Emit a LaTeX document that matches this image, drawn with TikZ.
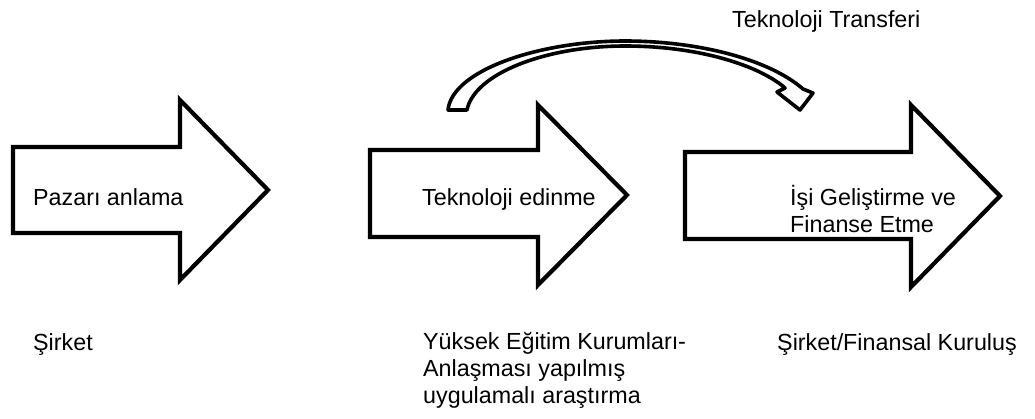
\documentclass[tikz,border=0pt]{standalone}
\usepackage{fontspec}
\setmainfont{Liberation Sans}
\begin{document}
\begin{tikzpicture}[x=1pt,y=-1pt,
  blockarrow/.style={draw=black,line width=4.2pt,line join=miter,fill=white},
  bentarrow/.style={draw=black,line width=3.6pt,line join=round,fill=white},
  lbl/.style={inner sep=0pt,anchor=base west,align=left,
    font=\fontsize{23.3}{27}\selectfont}]
\useasboundingbox (0,0) rectangle (1035,418);

% three block arrows of the process
\draw[blockarrow] (13,147) -- (180,147) -- (180,100) -- (268,190)
  -- (180,280) -- (180,233) -- (13,233) -- cycle;
\draw[blockarrow] (370,150) -- (538,150) -- (538,105) -- (627,195)
  -- (538,285) -- (538,237) -- (370,237) -- cycle;
\draw[blockarrow] (685,152) -- (911,152) -- (911,105) -- (1000,196)
  -- (911,287) -- (911,239) -- (685,239) -- cycle;

% hollow curved arrow for the transfer
\draw[bentarrow] (448,110) .. controls (452,70) and (540,41) .. (625,41)
  .. controls (700,41) and (770,60) .. (803,89)
  -- (813,93) -- (800,110) -- (777,92) -- (785,88)
  .. controls (760,66) and (700,46) .. (625,46)
  .. controls (545,46) and (474,74) .. (467,110) -- cycle;

% labels (multi-line labels are placed by the baseline of their last line)
\node[lbl] (pazar) at (33,205) {Pazarı anlama};
\node[lbl] (edin) at (422,205) {Teknoloji edinme};
\node[lbl] (isgel) at (790,232) {İşi Geliştirme ve\\Finanse Etme};
\node[lbl] (transfer) at (732,27) {Teknoloji Transferi};
\node[lbl] (sirket) at (33,350) {Şirket};
\node[lbl] (yuksek) at (423,403) {Yüksek Eğitim Kurumları-\\Anlaşması yapılmış\\uygulamalı araştırma};
\node[lbl] (finans) at (777,350) {Şirket/Finansal Kuruluş};
\end{tikzpicture}
\end{document}
